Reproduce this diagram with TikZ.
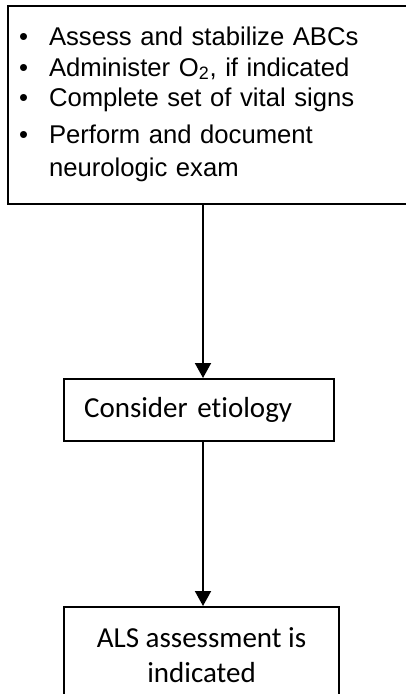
\documentclass[tikz,border=0pt]{standalone}
\usepackage{fontspec}
\setmainfont{Liberation Sans}
\newfontfamily\calibrifont[Ligatures=CommonOff]{Carlito}
\usetikzlibrary{arrows.meta,positioning}

\begin{document}
\begin{tikzpicture}[
    box/.style={draw,line width=1.2pt,inner sep=0pt},
    flow/.style={-{Triangle[length=0.3cm,width=0.32cm]},line width=1.1pt}]
      \path[use as bounding box,clip] (0,0) rectangle (8.12,-13.88);

      \node[box,anchor=north west,text width=7.82cm,inner xsep=0.22cm,
            minimum height=3.96cm,align=left,
            font=\fontsize{14.6}{17.1}\selectfont]
        (steps) at (0.14,-0.10)
        {\begin{tabular}{@{}p{0.6cm}@{}l@{}}
           \textbullet & Assess and stabilize ABCs\\
           \textbullet & Administer O\textsubscript{2}, if indicated\\
           \textbullet & Complete set of vital signs\\[4pt]
           \textbullet & Perform and document\\[1.7pt]
                       & neurologic exam
         \end{tabular}};

      \node[box,anchor=north west,text width=4.6cm,inner xsep=0.4cm,
            minimum height=1.24cm,align=left,
            font=\calibrifont\fontsize{16.5}{19.8}\selectfont]
        (etiology) at (1.26,-7.56)
        {Consider etiology};

      \node[box,anchor=north west,minimum width=5.5cm,
            minimum height=1.92cm,align=center,
            font=\calibrifont\fontsize{16.5}{19.8}\selectfont]
        (als) at (1.26,-12.12)
        {ALS assessment is\\indicated};

      \coordinate (axis) at (4.06,0);
      \draw[flow] (steps.south -| axis) -- (etiology.north -| axis);
      \draw[flow] (etiology.south -| axis) -- (als.north -| axis);
\end{tikzpicture}
\end{document}
